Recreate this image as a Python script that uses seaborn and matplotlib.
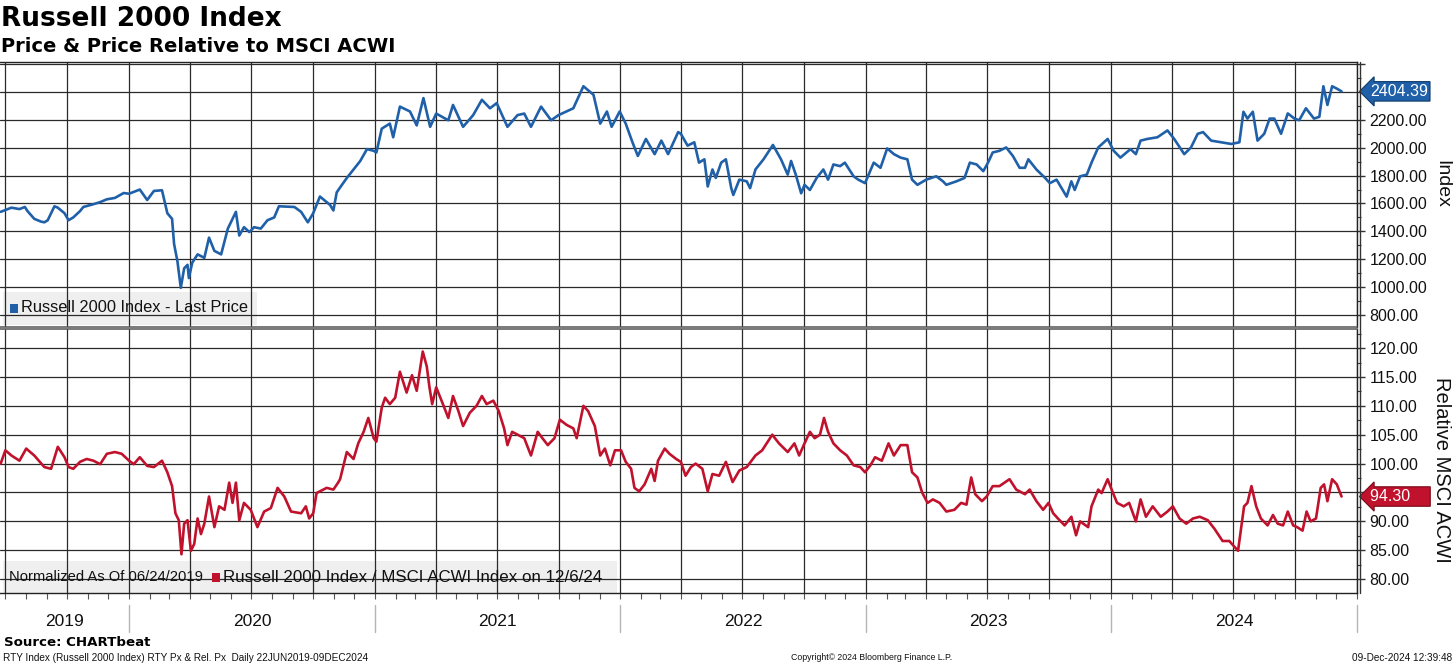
import pandas as pd
import matplotlib
matplotlib.use('Agg')
import matplotlib.pyplot as plt
import matplotlib.dates as mdates
import matplotlib.transforms as mtransforms
from matplotlib.lines import Line2D
from matplotlib.patches import Rectangle
from matplotlib.ticker import MultipleLocator, FixedLocator, FixedFormatter
import seaborn as sns

# Russell 2000 last price
rty_points = [
    ("2019-06-24", 1540), ("2019-07-10", 1570), ("2019-07-22", 1560), ("2019-07-30", 1575),
    ("2019-08-03", 1545), ("2019-08-13", 1490), ("2019-08-23", 1470), ("2019-08-28", 1465),
    ("2019-09-02", 1480), ("2019-09-12", 1580), ("2019-09-17", 1570), ("2019-09-27", 1530),
    ("2019-10-03", 1480), ("2019-10-10", 1500), ("2019-10-20", 1545), ("2019-10-25", 1575),
    ("2019-11-09", 1595), ("2019-11-19", 1610), ("2019-11-29", 1630), ("2019-12-11", 1640),
    ("2019-12-24", 1675),
    ("2020-01-01", 1670), ("2020-01-17", 1700), ("2020-01-28", 1625), ("2020-02-07", 1690),
    ("2020-02-19", 1695), ("2020-02-27", 1530), ("2020-03-05", 1490), ("2020-03-08", 1310),
    ("2020-03-13", 1185), ("2020-03-18", 995), ("2020-03-23", 1135), ("2020-03-28", 1160),
    ("2020-03-30", 1065), ("2020-04-04", 1175), ("2020-04-12", 1235), ("2020-04-22", 1210),
    ("2020-04-29", 1355), ("2020-05-07", 1260), ("2020-05-17", 1235), ("2020-05-27", 1420),
    ("2020-06-08", 1540), ("2020-06-13", 1370), ("2020-06-20", 1430), ("2020-06-28", 1395),
    ("2020-07-05", 1430), ("2020-07-15", 1420), ("2020-07-25", 1480), ("2020-08-04", 1500),
    ("2020-08-11", 1580), ("2020-09-03", 1575), ("2020-09-13", 1540), ("2020-09-23", 1465),
    ("2020-10-01", 1530), ("2020-10-11", 1650), ("2020-10-26", 1590), ("2020-10-31", 1550),
    ("2020-11-05", 1680), ("2020-11-10", 1715), ("2020-11-20", 1783), ("2020-11-30", 1844),
    ("2020-12-10", 1905), ("2020-12-20", 1990), ("2020-12-30", 1978),
    ("2021-01-03", 1966), ("2021-01-11", 2137), ("2021-01-23", 2173), ("2021-01-28", 2075),
    ("2021-02-07", 2295), ("2021-02-22", 2260), ("2021-03-04", 2160), ("2021-03-14", 2356),
    ("2021-03-24", 2150), ("2021-04-02", 2245), ("2021-04-20", 2197), ("2021-04-27", 2307),
    ("2021-05-12", 2150), ("2021-05-27", 2234), ("2021-06-09", 2344), ("2021-06-21", 2283),
    ("2021-07-01", 2320), ("2021-07-17", 2150), ("2021-08-01", 2234), ("2021-08-11", 2245),
    ("2021-08-21", 2150), ("2021-09-05", 2295), ("2021-09-20", 2197), ("2021-10-01", 2234),
    ("2021-10-23", 2283), ("2021-11-07", 2441), ("2021-11-22", 2380), ("2021-12-02", 2173),
    ("2021-12-12", 2260), ("2021-12-19", 2150), ("2021-12-31", 2260),
    ("2022-01-09", 2173), ("2022-01-19", 2039), ("2022-01-27", 1941), ("2022-02-08", 2063),
    ("2022-02-21", 1954), ("2022-03-03", 2051), ("2022-03-13", 1954), ("2022-03-28", 2112),
    ("2022-04-01", 2100), ("2022-04-11", 2015), ("2022-04-21", 2039), ("2022-04-28", 1893),
    ("2022-05-06", 1917), ("2022-05-11", 1722), ("2022-05-18", 1844), ("2022-05-23", 1783),
    ("2022-05-31", 1893), ("2022-06-07", 1917), ("2022-06-15", 1710), ("2022-06-18", 1661),
    ("2022-06-27", 1771), ("2022-07-08", 1759), ("2022-07-13", 1710), ("2022-07-21", 1844),
    ("2022-08-02", 1917), ("2022-08-16", 2020), ("2022-08-28", 1917), ("2022-09-07", 1807),
    ("2022-09-12", 1905), ("2022-09-19", 1807), ("2022-09-27", 1673), ("2022-10-02", 1734),
    ("2022-10-10", 1697), ("2022-10-20", 1783), ("2022-10-30", 1844), ("2022-11-06", 1771),
    ("2022-11-14", 1880), ("2022-11-24", 1868), ("2022-12-01", 1893), ("2022-12-14", 1795),
    ("2022-12-21", 1771), ("2022-12-31", 1746),
    ("2023-01-13", 1893), ("2023-01-23", 1856), ("2023-02-02", 1995), ("2023-02-12", 1954),
    ("2023-02-22", 1929), ("2023-03-04", 1917), ("2023-03-11", 1771), ("2023-03-19", 1734),
    ("2023-04-01", 1771), ("2023-04-16", 1795), ("2023-04-26", 1759), ("2023-05-01", 1734),
    ("2023-05-16", 1759), ("2023-05-28", 1783), ("2023-06-05", 1893), ("2023-06-15", 1880),
    ("2023-06-25", 1832), ("2023-07-02", 1893), ("2023-07-09", 1966), ("2023-07-19", 1978),
    ("2023-07-29", 2002), ("2023-08-08", 1941), ("2023-08-18", 1856), ("2023-08-26", 1856),
    ("2023-08-31", 1917), ("2023-09-12", 1844), ("2023-09-25", 1783), ("2023-10-02", 1746),
    ("2023-10-12", 1771), ("2023-10-27", 1649), ("2023-11-03", 1759), ("2023-11-08", 1697),
    ("2023-11-16", 1795), ("2023-11-26", 1807), ("2023-12-03", 1893), ("2023-12-13", 2002),
    ("2023-12-27", 2063),
    ("2024-01-05", 1978), ("2024-01-15", 1929), ("2024-01-30", 1990), ("2024-02-07", 1954),
    ("2024-02-14", 2051), ("2024-02-24", 2063), ("2024-03-10", 2075), ("2024-03-25", 2124),
    ("2024-04-04", 2063), ("2024-04-19", 1954), ("2024-04-29", 2002), ("2024-05-09", 2100),
    ("2024-05-17", 2112), ("2024-05-29", 2051), ("2024-06-13", 2039), ("2024-06-28", 2027),
    ("2024-07-10", 2039), ("2024-07-16", 2258), ("2024-07-22", 2209), ("2024-07-30", 2258),
    ("2024-08-06", 2051), ("2024-08-16", 2100), ("2024-08-24", 2209), ("2024-08-31", 2209),
    ("2024-09-10", 2100), ("2024-09-20", 2246), ("2024-09-30", 2209), ("2024-10-07", 2197),
    ("2024-10-17", 2283), ("2024-10-29", 2209), ("2024-11-06", 2222), ("2024-11-12", 2441),
    ("2024-11-18", 2307), ("2024-11-25", 2441), ("2024-12-02", 2424), ("2024-12-09", 2404.39),
]

# Russell 2000 / MSCI ACWI, normalized to 100 on 06/24/2019
rel_points = [
    ("2019-06-24", 100.0), ("2019-07-01", 102.3), ("2019-07-10", 101.4), ("2019-07-22", 100.5),
    ("2019-08-01", 102.6), ("2019-08-13", 101.4), ("2019-08-28", 99.4), ("2019-09-07", 99.1),
    ("2019-09-17", 102.9), ("2019-09-27", 101.1), ("2019-10-03", 99.4), ("2019-10-10", 99.1),
    ("2019-10-20", 100.3), ("2019-10-30", 100.8), ("2019-11-09", 100.5), ("2019-11-19", 99.9),
    ("2019-11-29", 101.7), ("2019-12-11", 102.0), ("2019-12-21", 101.7),
    ("2020-01-01", 100.5), ("2020-01-08", 99.9), ("2020-01-17", 101.1), ("2020-01-28", 99.6),
    ("2020-02-07", 99.4), ("2020-02-19", 100.5), ("2020-02-27", 98.5), ("2020-03-05", 96.1),
    ("2020-03-10", 91.4), ("2020-03-15", 90.2), ("2020-03-19", 84.3), ("2020-03-23", 89.6),
    ("2020-03-28", 90.2), ("2020-04-02", 84.9), ("2020-04-07", 86.1), ("2020-04-12", 90.5),
    ("2020-04-17", 87.8), ("2020-04-22", 89.6), ("2020-04-29", 94.3), ("2020-05-07", 89.0),
    ("2020-05-14", 92.6), ("2020-05-22", 92.0), ("2020-05-29", 96.7), ("2020-06-03", 93.2),
    ("2020-06-08", 96.7), ("2020-06-13", 90.2), ("2020-06-20", 93.2), ("2020-06-30", 92.0),
    ("2020-07-10", 89.0), ("2020-07-20", 91.7), ("2020-07-30", 92.3), ("2020-08-09", 95.8),
    ("2020-08-19", 94.3), ("2020-08-29", 91.7), ("2020-09-13", 91.4), ("2020-09-20", 92.6),
    ("2020-09-25", 90.5), ("2020-10-01", 91.4), ("2020-10-06", 94.9), ("2020-10-21", 95.8),
    ("2020-10-31", 95.5), ("2020-11-07", 96.7), ("2020-11-10", 97.3), ("2020-11-20", 102.0),
    ("2020-11-30", 100.8), ("2020-12-07", 103.5), ("2020-12-15", 105.5), ("2020-12-22", 107.9),
    ("2020-12-30", 104.4),
    ("2021-01-03", 103.8), ("2021-01-11", 109.7), ("2021-01-16", 111.4), ("2021-01-23", 110.3),
    ("2021-01-31", 111.4), ("2021-02-07", 115.9), ("2021-02-17", 112.3), ("2021-02-25", 115.3),
    ("2021-03-04", 112.6), ("2021-03-13", 119.4), ("2021-03-19", 116.8), ("2021-03-23", 113.2),
    ("2021-03-27", 110.3), ("2021-04-02", 113.2), ("2021-04-12", 110.3), ("2021-04-20", 107.9),
    ("2021-04-27", 111.7), ("2021-05-05", 109.1), ("2021-05-12", 106.5), ("2021-05-22", 108.8),
    ("2021-06-01", 110.0), ("2021-06-09", 111.7), ("2021-06-16", 110.3), ("2021-06-26", 110.9),
    ("2021-07-04", 109.1), ("2021-07-12", 106.1), ("2021-07-17", 103.2), ("2021-07-24", 105.5),
    ("2021-08-03", 104.9), ("2021-08-11", 104.4), ("2021-08-21", 101.4), ("2021-08-31", 105.5),
    ("2021-09-07", 104.4), ("2021-09-15", 103.2), ("2021-09-25", 104.4), ("2021-10-03", 107.6),
    ("2021-10-13", 106.7), ("2021-10-23", 106.1), ("2021-10-28", 104.4), ("2021-11-07", 110.0),
    ("2021-11-14", 109.1), ("2021-11-24", 106.5), ("2021-12-02", 101.4), ("2021-12-09", 102.6),
    ("2021-12-17", 99.7), ("2021-12-24", 102.3),
    ("2022-01-02", 102.3), ("2022-01-09", 100.3), ("2022-01-17", 99.1), ("2022-01-22", 95.8),
    ("2022-01-29", 95.2), ("2022-02-06", 96.4), ("2022-02-16", 99.1), ("2022-02-21", 97.0),
    ("2022-02-26", 100.5), ("2022-03-08", 102.6), ("2022-03-15", 101.7), ("2022-03-25", 100.8),
    ("2022-04-01", 100.3), ("2022-04-08", 97.9), ("2022-04-16", 99.4), ("2022-04-23", 100.0),
    ("2022-05-03", 99.1), ("2022-05-11", 95.2), ("2022-05-18", 98.2), ("2022-05-28", 97.9),
    ("2022-06-07", 100.3), ("2022-06-17", 96.8), ("2022-06-27", 98.8), ("2022-07-08", 99.4),
    ("2022-07-21", 101.4), ("2022-07-31", 102.3), ("2022-08-15", 105.0), ("2022-08-25", 103.5),
    ("2022-09-07", 102.0), ("2022-09-17", 103.5), ("2022-09-24", 101.4), ("2022-10-02", 103.5),
    ("2022-10-10", 105.5), ("2022-10-17", 104.4), ("2022-10-25", 105.0), ("2022-10-31", 107.9),
    ("2022-11-06", 105.5), ("2022-11-14", 103.5), ("2022-11-24", 102.3), ("2022-12-04", 101.4),
    ("2022-12-14", 99.7), ("2022-12-24", 99.4), ("2022-12-31", 98.5),
    ("2023-01-08", 99.7), ("2023-01-15", 101.1), ("2023-01-25", 100.5), ("2023-02-04", 103.5),
    ("2023-02-12", 101.4), ("2023-02-22", 103.2), ("2023-03-04", 103.2), ("2023-03-11", 98.5),
    ("2023-03-19", 97.6), ("2023-03-26", 95.0), ("2023-04-03", 93.2), ("2023-04-11", 93.8),
    ("2023-04-21", 93.2), ("2023-05-01", 91.7), ("2023-05-13", 92.0), ("2023-05-23", 93.2),
    ("2023-05-31", 92.9), ("2023-06-07", 97.6), ("2023-06-13", 94.7), ("2023-06-23", 93.5),
    ("2023-06-30", 94.3), ("2023-07-09", 96.1), ("2023-07-19", 96.1), ("2023-08-03", 97.3),
    ("2023-08-13", 95.5), ("2023-08-26", 94.7), ("2023-09-02", 95.5), ("2023-09-12", 93.5),
    ("2023-09-22", 92.0), ("2023-09-30", 93.2), ("2023-10-07", 91.4), ("2023-10-14", 90.5),
    ("2023-10-24", 89.3), ("2023-11-03", 90.8), ("2023-11-10", 87.6), ("2023-11-16", 90.0),
    ("2023-11-28", 89.0), ("2023-12-03", 92.6), ("2023-12-13", 95.5), ("2023-12-18", 94.9),
    ("2023-12-27", 97.3),
    ("2024-01-03", 95.2), ("2024-01-10", 93.2), ("2024-01-20", 92.6), ("2024-01-28", 93.2),
    ("2024-02-07", 90.0), ("2024-02-14", 93.8), ("2024-02-22", 90.8), ("2024-03-03", 92.6),
    ("2024-03-15", 90.8), ("2024-03-25", 91.7), ("2024-04-02", 92.6), ("2024-04-12", 90.5),
    ("2024-04-22", 89.6), ("2024-05-02", 90.5), ("2024-05-12", 90.8), ("2024-05-24", 90.2),
    ("2024-06-03", 88.7), ("2024-06-15", 86.6), ("2024-06-25", 86.6), ("2024-07-02", 85.7),
    ("2024-07-08", 84.9), ("2024-07-17", 92.6), ("2024-07-22", 93.2), ("2024-07-28", 96.1),
    ("2024-08-04", 92.6), ("2024-08-11", 90.5), ("2024-08-21", 89.3), ("2024-08-29", 91.1),
    ("2024-09-05", 89.6), ("2024-09-13", 89.3), ("2024-09-20", 91.7), ("2024-09-28", 89.3),
    ("2024-10-04", 89.0), ("2024-10-12", 88.4), ("2024-10-18", 91.7), ("2024-10-24", 90.0),
    ("2024-11-01", 90.5), ("2024-11-08", 95.8), ("2024-11-13", 96.4), ("2024-11-18", 93.5),
    ("2024-11-25", 97.3), ("2024-12-02", 96.4), ("2024-12-09", 94.30),
]

years = ["2019", "2020", "2021", "2022", "2023", "2024"]
top_ticks = [800, 1000, 1200, 1400, 1600, 1800, 2000, 2200, 2400, 2600]
bottom_ticks = [80, 85, 90, 95, 100, 105, 110, 115, 120]

BLUE = '#1f60a8'
RED = '#c0122c'
GRID = '#2a2a2a'

rty = pd.DataFrame(rty_points, columns=['date', 'px'])
rty['date'] = pd.to_datetime(rty['date'])
rel = pd.DataFrame(rel_points, columns=['date', 'px'])
rel['date'] = pd.to_datetime(rel['date'])

sns.set_theme(style='white')
plt.rcParams['font.family'] = ['Liberation Sans', 'DejaVu Sans']

W, H = 1456, 666
fig = plt.figure(figsize=(W / 100, H / 100), dpi=100)


def pbox(x0, y0, x1, y1):
    # pixel box (top-left origin) -> figure fraction
    return [x0 / W, 1 - y1 / H, (x1 - x0) / W, (y1 - y0) / H]


def fy(y):
    return 1 - y / H


ax1 = fig.add_axes(pbox(0, 62, 1357, 327))
ax2 = fig.add_axes(pbox(0, 329, 1357, 593), sharex=ax1)

sns.lineplot(data=rty, x='date', y='px', ax=ax1, color=BLUE, linewidth=1.9, zorder=3)
sns.lineplot(data=rel, x='date', y='px', ax=ax2, color=RED, linewidth=1.9, zorder=3)

x0 = pd.Timestamp('2019-06-23')
x1 = pd.Timestamp('2025-01-01')
ax1.set_xlim(x0, x1)
ax1.set_ylim(714, 2615)
ax2.set_ylim(77.6, 123.3)

for ax in (ax1, ax2):
    ax.set_axisbelow(True)
    ax.xaxis.set_major_locator(mdates.MonthLocator(bymonth=[1, 4, 7, 10]))
    ax.xaxis.set_minor_locator(mdates.MonthLocator())
    ax.grid(True, which='major', color=GRID, linewidth=0.9)
    ax.set_xlabel('')
    ax.set_ylabel('')
    ax.yaxis.tick_right()
    ax.tick_params(axis='y', which='major', direction='out', length=6, width=1,
                   color='#333333', labelsize=11.5, pad=3, labelcolor='#111111')
    ax.tick_params(axis='y', which='minor', direction='out', length=3, width=0.8,
                   color='#333333', right=True)
    ax.spines['left'].set_visible(False)
    for s in ('top', 'right', 'bottom'):
        ax.spines[s].set_color('#222222')
        ax.spines[s].set_linewidth(1)

# the last-value tags sit where the 2400 and 95 labels would be
ax1.yaxis.set_major_locator(FixedLocator(top_ticks))
ax1.yaxis.set_major_formatter(FixedFormatter(
    [f'{v:.2f}' if v <= 2200 else '' for v in top_ticks]))
ax1.yaxis.set_minor_locator(MultipleLocator(100))
ax2.yaxis.set_major_locator(FixedLocator(bottom_ticks))
ax2.yaxis.set_major_formatter(FixedFormatter(
    ['' if v == 95 else f'{v:.2f}' for v in bottom_ticks]))
ax2.yaxis.set_minor_locator(MultipleLocator(2.5))

ax1.tick_params(axis='x', which='both', length=0, labelbottom=False)
ax2.tick_params(axis='x', which='both', direction='out', length=4, width=0.8,
                color='#555555', labelbottom=False, bottom=True)

# axis titles on the far right
fig.text(1442 / W, fy(184), 'Index', rotation=270, fontsize=14, ha='center',
         va='center', color='#111111')
fig.text(1442 / W, fy(470), 'Relative MSCI ACWI', rotation=270, fontsize=14.5,
         ha='center', va='center', color='#111111')

# divider between panels
ax1.spines['bottom'].set_linewidth(1.1)
ax1.spines['bottom'].set_color('#555555')
ax2.spines['top'].set_linewidth(1.1)
ax2.spines['top'].set_color('#555555')

# second axis line right of the frame
fig.add_artist(Line2D([1360 / W, 1360 / W], [fy(593), fy(62)],
                      transform=fig.transFigure, color='#333333', lw=1))


def legend_box(ax, x0p, y0p, x1p, y1p):
    ax.add_patch(Rectangle((x0p / W, fy(y1p)), (x1p - x0p) / W, (y1p - y0p) / H,
                           transform=fig.transFigure, facecolor='#efefef',
                           edgecolor='none', zorder=0.2))


legend_box(ax1, 3, 292, 257, 325)
fig.add_artist(Rectangle((10 / W, fy(313)), 8 / W, 9 / H, transform=fig.transFigure,
                         facecolor=BLUE, edgecolor='none'))
fig.text(21 / W, fy(308), 'Russell 2000 Index - Last Price', fontsize=11.8,
         va='center', ha='left', color='#111111')

legend_box(ax2, 3, 561, 617, 593)
fig.text(9 / W, fy(577), 'Normalized As Of 06/24/2019', fontsize=10.6,
         va='center', ha='left', color='#111111')
fig.add_artist(Rectangle((212 / W, fy(582)), 8 / W, 9 / H, transform=fig.transFigure,
                         facecolor=RED, edgecolor='none'))
fig.text(223 / W, fy(577), 'Russell 2000 Index / MSCI ACWI Index on 12/6/24',
         fontsize=12.2, va='center', ha='left', color='#111111')

# last value tags
for ax, df, fc, ec, label in ((ax1, rty, BLUE, '#0e3a6a', '2404.39'),
                              (ax2, rel, RED, '#7a0a1a', '94.30    ')):
    tr = mtransforms.blended_transform_factory(ax.transAxes, ax.transData)
    ax.text(1.0095, df['px'].iloc[-1], label, transform=tr, ha='left', va='center',
            fontsize=11.5, color='white', clip_on=False, zorder=10,
            bbox=dict(boxstyle='larrow,pad=0.14', facecolor=fc, edgecolor=ec, lw=0.8))

# year labels and separators under the bottom panel
trx = mtransforms.blended_transform_factory(ax2.transData, fig.transFigure)
for y in years:
    start = max(pd.Timestamp(f'{y}-01-01'), x0)
    end = pd.Timestamp(f'{int(y) + 1}-01-01')
    mid = start + (end - start) / 2
    ax2.text(mdates.date2num(mid), fy(622), y, transform=trx, ha='center',
             va='center', fontsize=12.5, color='#111111', clip_on=False)
    sep = mdates.date2num(end)
    fig.add_artist(Line2D([sep, sep], [fy(632), fy(605)], transform=trx,
                          color='#b5b5b5', lw=1))

# titles and footer
fig.text(1 / W, fy(19), 'Russell 2000 Index', fontsize=19, fontweight='bold',
         family='DejaVu Sans', va='center', ha='left', color='black')
fig.text(1 / W, fy(46), 'Price & Price Relative to MSCI ACWI', fontsize=14,
         fontweight='bold', family='DejaVu Sans', va='center', ha='left', color='black')
fig.text(4 / W, fy(642), 'Source: CHARTbeat', fontsize=9.6, fontweight='bold',
         family='DejaVu Sans', va='center', ha='left', color='black')
fig.text(3 / W, fy(658),
         'RTY Index (Russell 2000 Index) RTY Px & Rel. Px  Daily 22JUN2019-09DEC2024',
         fontsize=7.2, va='center', ha='left', color='#111111')
fig.text(872 / W, fy(658), 'Copyright\u00a9 2024 Bloomberg Finance L.P.',
         fontsize=6.3, va='center', ha='center', color='#111111')
fig.text(1452 / W, fy(658), '09-Dec-2024 12:39:48', fontsize=7.2, va='center',
         ha='right', color='#111111')

fig.savefig('out.png', dpi=100)
